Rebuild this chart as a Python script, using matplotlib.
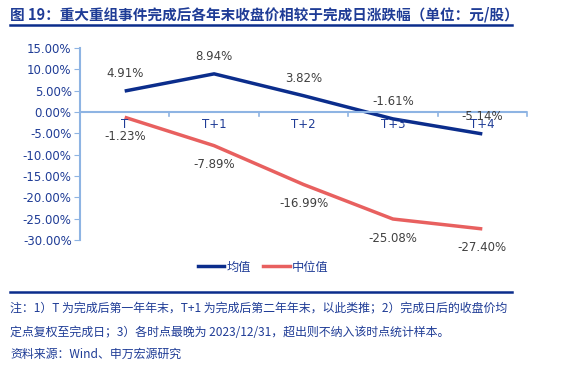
import matplotlib.pyplot as plt
from matplotlib.lines import Line2D

plt.rcParams['font.family'] = ['Noto Sans CJK SC', 'DejaVu Sans']

cats = ['T', 'T+1', 'T+2', 'T+3', 'T+4']
mean_vals = [4.91, 8.94, 3.82, -1.61, -5.14]
median_vals = [-1.23, -7.89, -16.99, -25.08, -27.40]
yticks = [15, 10, 5, 0, -5, -10, -15, -20, -25, -30]

blue = '#0B2D8C'
red = '#E8605F'
axis_c = '#8EB4E3'
txt_c = '#1F3C96'
lab_c = '#404040'

fig = plt.figure(figsize=(5.61, 3.72), dpi=100)
ax = fig.add_axes([80 / 561, 1 - 240 / 372, (527 - 80) / 561, (240 - 48) / 372])

x = list(range(len(cats)))
ax.plot(x, mean_vals, color=blue, lw=2.5, solid_capstyle='butt')
ax.plot(x, median_vals, color=red, lw=2.5, solid_capstyle='butt')

for i, v in enumerate(mean_vals):
    ax.annotate('%.2f%%' % v, (i, v), xytext=(0, 8), textcoords='offset points',
                ha='center', va='bottom', fontsize=8.5, color=lab_c, family='DejaVu Sans')
for i, v in enumerate(median_vals):
    ax.annotate('%.2f%%' % v, (i, v), xytext=(0, -9), textcoords='offset points',
                ha='center', va='top', fontsize=8.5, color=lab_c, family='DejaVu Sans')

ax.set_xlim(-0.5, 4.5)
ax.set_ylim(-30, 15)
ax.set_yticks(yticks)
ax.set_yticklabels(['%.2f%%' % t for t in yticks], fontsize=8.5, color=txt_c, family='DejaVu Sans')
ax.tick_params(axis='y', colors=axis_c, labelcolor=txt_c, length=4, direction='out', pad=2)

for s in ['top', 'right', 'bottom']:
    ax.spines[s].set_visible(False)
ax.spines['left'].set_color(axis_c)
ax.spines['left'].set_linewidth(1.5)
ax.axhline(0, color=axis_c, lw=1.5)
ax.set_xticks([])
for b in [0.5, 1.5, 2.5, 3.5, 4.5]:
    ax.plot([b, b], [0, -0.9], color=axis_c, lw=1.2, clip_on=False)
for i, c in enumerate(cats):
    ax.text(i, -1.3, c, ha='center', va='top', fontsize=8.5, color=txt_c, family='DejaVu Sans')

# title and rules
fig.text(10 / 561, 1 - 15 / 372, '图 19：重大重组事件完成后各年末收盘价相较于完成日涨跌幅（单位：元/股）',
         fontsize=10.5, fontweight='bold', color='#1F3C96', va='center', ha='left')
fig.add_artist(Line2D([10 / 561, 512 / 561], [1 - 25 / 372, 1 - 25 / 372], color='#0B2D8C', lw=1.8))
fig.add_artist(Line2D([10 / 561, 512 / 561], [1 - 292 / 372, 1 - 292 / 372], color='#0B2D8C', lw=1.8))

handles = [Line2D([], [], color=blue, lw=2.5), Line2D([], [], color=red, lw=2.5)]
fig.legend(handles, ['均值', '中位值'], loc='center', bbox_to_anchor=(263 / 561, 1 - 267 / 372),
           ncol=2, frameon=False, fontsize=8.8, handlelength=2.2, handletextpad=0.15,
           columnspacing=1.0, labelcolor=txt_c)

notes = ['注：1）T 为完成后第一年年末，T+1 为完成后第二年年末，以此类推；2）完成日后的收盘价均',
         '定点复权至完成日；3）各时点最晚为 2023/12/31，超出则不纳入该时点统计样本。',
         '资料来源：Wind、申万宏源研究']
for t, yy in zip(notes, [309, 332, 354]):
    fig.text(10 / 561, 1 - yy / 372, t, fontsize=8.6, color=txt_c, va='center', ha='left')

fig.savefig('out.png', dpi=100)
